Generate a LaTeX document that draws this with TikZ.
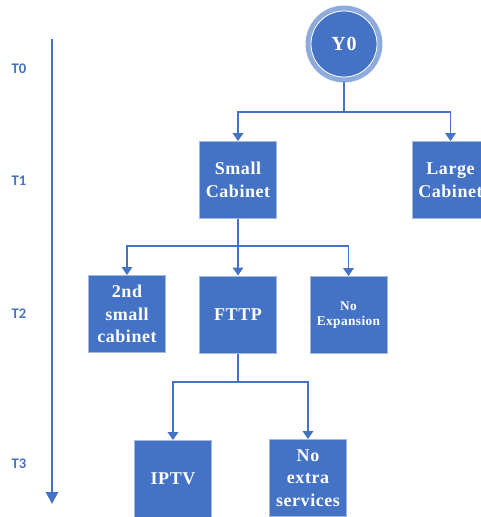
\documentclass[tikz,border=0pt]{standalone}
\usepackage{fontspec}
\setmainfont{Liberation Serif}[LetterSpace=3]
\newfontfamily\tfont{Carlito}
\usetikzlibrary{arrows.meta}
\definecolor{boxblue}{RGB}{68,114,196}
\definecolor{ringblue}{RGB}{143,170,220}
\definecolor{edgeblue}{RGB}{165,185,222}
\tikzset{
  box/.style={rectangle, fill=boxblue, draw=edgeblue, line width=0.75pt, minimum size=57.75pt,
    text=white, font=\bfseries\fontsize{13.5}{17}\selectfont, align=center, inner sep=1pt},
  conn/.style={draw=boxblue, line width=1.1pt},
  arr/.style={conn, -{Triangle[width=8pt,length=6pt]}},
  axis/.style={draw=boxblue, line width=2pt, -{Triangle[width=9pt,length=9pt]}},
  tlabel/.style={text=boxblue, font=\tfont\bfseries\fontsize{11}{13}\selectfont}
}
\begin{document}
\begin{tikzpicture}[x=0.75pt,y=-0.75pt]
        \useasboundingbox (0,0) rectangle (481,517);
        \clip (0,0) rectangle (481,517);

        % time axis
        \coordinate (ttop) at (52,39);
        \coordinate (tbot) at (52,504);
        \draw[axis] (ttop) -- (tbot);
        \node[tlabel] (t0) at (19,69) {T0};
        \node[tlabel] (t1) at (19,181) {T1};
        \node[tlabel] (t2) at (19,314) {T2};
        \node[tlabel] (t3) at (19,464) {T3};

        % tree
        \node[circle, fill=boxblue, draw=ringblue, line width=4.1pt, minimum size=53.6pt,
          text=white, font=\bfseries\fontsize{15}{18}\selectfont] (y0) at (344,44) {Y0};
        \draw[white, line width=0.6pt] (y0.center) circle (24.75pt);

        \node[box] (small) at (238,180) {Small\\Cabinet};
        \node[box] (large) at (450.5,180) {Large\\Cabinet};
        \node[box] (second) at (127,314) {2nd\\small\\cabinet};
        \node[box] (fttp) at (238,314.5) {FTTP};
        \node[box, font=\bfseries\fontsize{10}{11.5}\selectfont] (noexp) at (348.5,315) {No\\Expansion};
        \node[box] (iptv) at (173,479) {IPTV};
        \node[box] (noextra) at (308,478) {No\\extra\\services};

        \coordinate (b0) at (344,112);
        \draw[conn] (y0) -- (b0);
        \draw[arr] (b0) -| (small);
        \draw[arr] (b0) -| (large);

        \coordinate (b1) at (238,246);
        \draw[conn] (small) -- (b1);
        \draw[arr] (b1) -| (second);
        \draw[arr] (b1) -- (fttp);
        \draw[arr] (b1) -| (noexp);

        \coordinate (b2) at (238,382);
        \draw[conn] (fttp) -- (b2);
        \draw[arr] (b2) -| (iptv);
        \draw[arr] (b2) -| (noextra);
    \end{tikzpicture}
\end{document}
